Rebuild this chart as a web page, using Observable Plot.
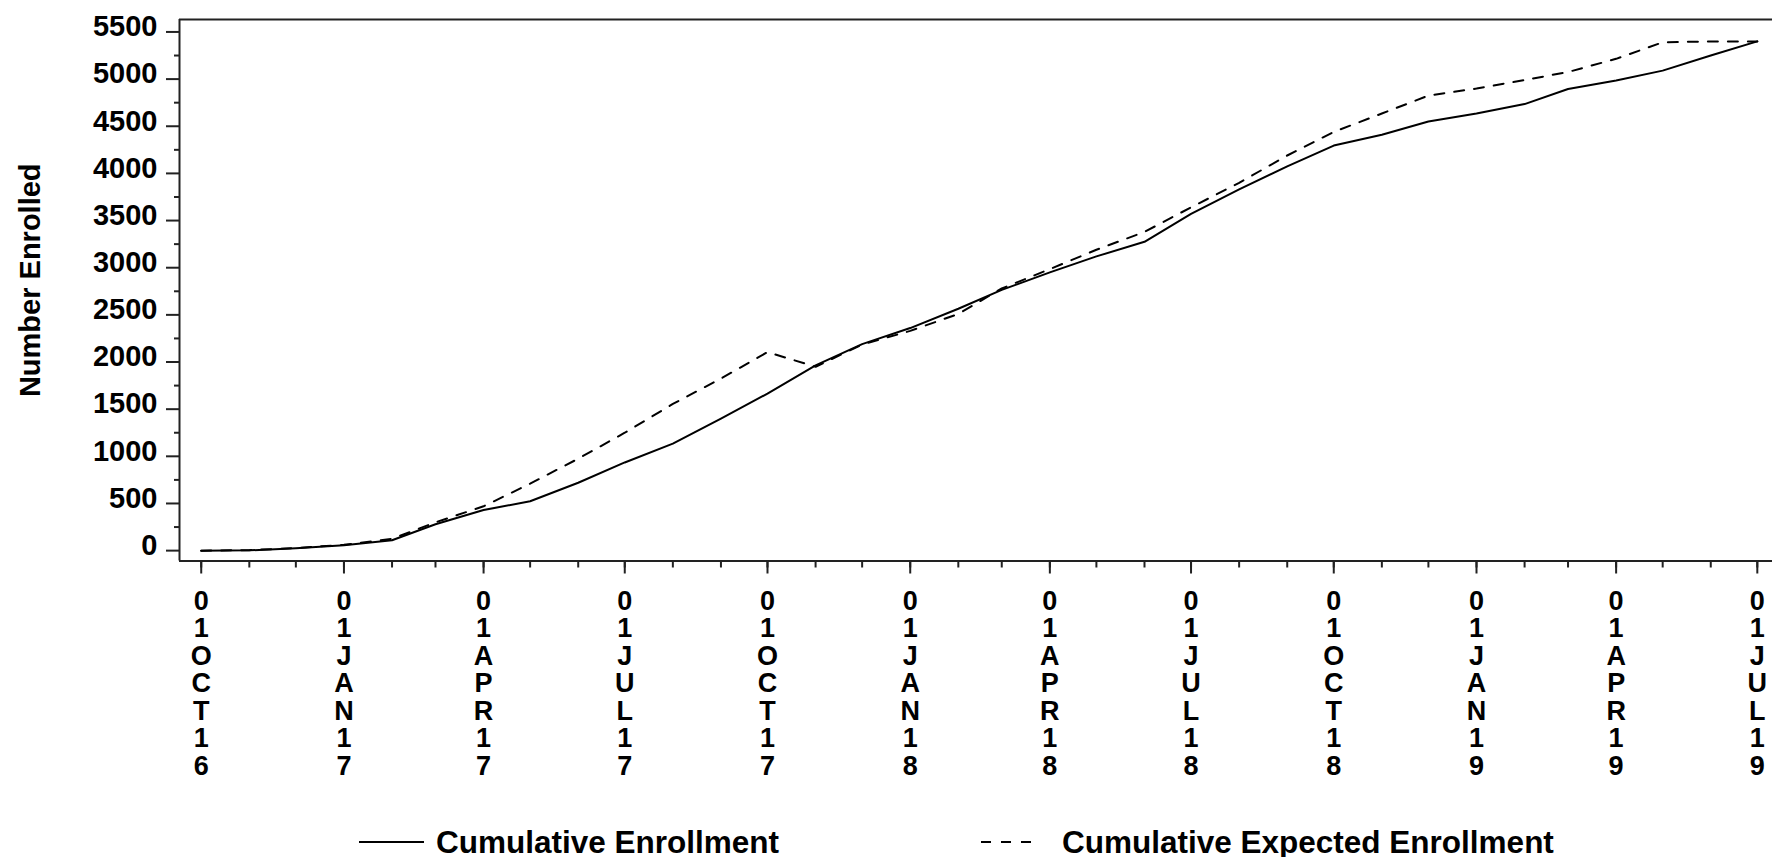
<!DOCTYPE html>
<html>
<head>
<meta charset="utf-8">
<script src="https://cdn.jsdelivr.net/npm/d3@7"></script>
<script src="https://cdn.jsdelivr.net/npm/@observablehq/plot@0.6"></script>
<style>
  html, body { margin: 0; padding: 0; background: #fff; }
  body { width: 1772px; height: 857px; overflow: hidden; font-family: "Liberation Sans", Arial, sans-serif; font-weight: bold; color: #000; }
  #legend { position: relative; width: 1772px; height: 47px; }
  #legend .sample { position: absolute; top: 14px; height: 36px; }
  #legend .label { position: absolute; top: 14px; height: 36px; line-height: 36px; font-size: 31.5px; white-space: nowrap; }
</style>
</head>
<body>
<div id="chart"></div>
<div id="legend"></div>
<script>
// Monthly cumulative enrollment, Oct 2016 – Jul 2019
const months = [
  "2016-10-01", "2016-11-01", "2016-12-01",
  "2017-01-01", "2017-02-01", "2017-03-01", "2017-04-01", "2017-05-01", "2017-06-01",
  "2017-07-01", "2017-08-01", "2017-09-01", "2017-10-01", "2017-11-01", "2017-12-01",
  "2018-01-01", "2018-02-01", "2018-03-01", "2018-04-01", "2018-05-01", "2018-06-01",
  "2018-07-01", "2018-08-01", "2018-09-01", "2018-10-01", "2018-11-01", "2018-12-01",
  "2019-01-01", "2019-02-01", "2019-03-01", "2019-04-01", "2019-05-01", "2019-06-01",
  "2019-07-01"
];
const actualEnrollment = [
  0, 3, 25,
  58, 110, 280, 430, 523, 720,
  935, 1135, 1400, 1665, 1965, 2190,
  2360, 2565, 2765, 2950, 3120, 3275,
  3570, 3830, 4075, 4295, 4410, 4550,
  4635, 4735, 4895, 4985, 5090, 5250,
  5400
];
const expectedEnrollment = [
  0, 5, 28,
  62, 125, 300, 470, 710, 975,
  1250, 1555, 1825, 2105, 1950, 2185,
  2330, 2510, 2780, 2985, 3190, 3380,
  3640, 3900, 4190, 4440, 4635, 4825,
  4900, 4990, 5075, 5215, 5390, 5400,
  5400
];
const seriesNames = ["Cumulative Enrollment", "Cumulative Expected Enrollment"];

// Axis settings
const monthAbbr = ["JAN", "FEB", "MAR", "APR", "MAY", "JUN", "JUL", "AUG", "SEP", "OCT", "NOV", "DEC"];
const xMajorTicks = [
  "2016-10-01", "2017-01-01", "2017-04-01", "2017-07-01", "2017-10-01", "2018-01-01",
  "2018-04-01", "2018-07-01", "2018-10-01", "2019-01-01", "2019-04-01", "2019-07-01"
];
const yMajorTicks = [0, 500, 1000, 1500, 2000, 2500, 3000, 3500, 4000, 4500, 5000, 5500];
const yMinorTicks = [250, 750, 1250, 1750, 2250, 2750, 3250, 3750, 4250, 4750, 5250];
const xDomain = ["2016-09-17T00:00Z", "2019-07-10T19:00Z"];
const yDomain = [-110, 5632];
const yTitle = "Number Enrolled";

const rows = months.map((m, i) => ({
  date: new Date(m + "T00:00Z"),
  actual: actualEnrollment[i],
  expected: expectedEnrollment[i]
}));
const monthDates = months.map(m => new Date(m + "T00:00Z"));
const majorDates = xMajorTicks.map(m => new Date(m + "T00:00Z"));
const xDomainDates = xDomain.map(d => new Date(d));

// "01OCT16" written one character per line
const stackedDate = d => {
  const s = "01" + monthAbbr[d.getUTCMonth()] + String(d.getUTCFullYear()).slice(2);
  return s.split("").join("\n");
};

const axisColor = "#222";
const dash = "10,10";

const chart = Plot.plot({
  width: 1772,
  height: 810,
  marginLeft: 179,
  marginRight: 0,
  marginTop: 19,
  marginBottom: 249.5,
  style: {
    fontFamily: "'Liberation Sans', Arial, sans-serif",
    fontSize: "29px",
    fontWeight: "bold",
    color: "#000",
    background: "#fff",
    overflow: "visible"
  },
  x: { type: "utc", domain: xDomainDates, label: null },
  y: { domain: yDomain, label: null },
  marks: [
    // frame: top, bottom and left edges
    Plot.ruleY([yDomain[1]], { stroke: axisColor, strokeWidth: 2 }),
    Plot.ruleY([yDomain[0]], { stroke: axisColor, strokeWidth: 2 }),
    Plot.ruleX([xDomainDates[0]], { stroke: axisColor, strokeWidth: 2 }),
    // y axis ticks and labels
    Plot.axisY(yMajorTicks, { tickSize: 13, tickFormat: () => "", stroke: axisColor, strokeWidth: 2, label: null }),
    Plot.axisY(yMinorTicks, { tickSize: 5, tickFormat: () => "", stroke: axisColor, strokeWidth: 2, label: null }),
    Plot.axisY(yMajorTicks, { tickSize: 0, tickPadding: 22, dy: -5, fontSize: 29, tickFormat: d => String(d), label: null }),
    // x axis: monthly minor ticks, quarterly major ticks with stacked labels
    Plot.axisX(monthDates, { tickSize: 7, tickFormat: () => "", stroke: axisColor, strokeWidth: 2, label: null }),
    Plot.axisX(majorDates, {
      tickSize: 13, tickPadding: 16, tickFormat: stackedDate,
      lineHeight: 1.02, fontSize: 27, stroke: axisColor, strokeWidth: 2, label: null
    }),
    // series
    Plot.line(rows, { x: "date", y: "expected", stroke: "#000", strokeWidth: 2, strokeDasharray: dash }),
    Plot.line(rows, { x: "date", y: "actual", stroke: "#000", strokeWidth: 2 }),
    // y axis title
    Plot.text([yTitle], { frameAnchor: "left", textAnchor: "middle", rotate: -90, dx: -149, dy: -10, fontSize: 29, fill: "#000" })
  ]
});
document.getElementById("chart").appendChild(chart);

// Legend below the chart
const legend = document.getElementById("legend");
const legendItems = [
  { name: seriesNames[0], dash: null, sampleLeft: 359, sampleWidth: 65, textLeft: 436 },
  { name: seriesNames[1], dash: dash, sampleLeft: 981, sampleWidth: 59, textLeft: 1062 }
];
for (const item of legendItems) {
  const svg = d3.create("svg")
    .attr("class", "sample")
    .attr("width", item.sampleWidth)
    .attr("height", 36)
    .style("left", item.sampleLeft + "px");
  svg.append("line")
    .attr("x1", 0).attr("x2", item.sampleWidth)
    .attr("y1", 18).attr("y2", 18)
    .attr("stroke", "#000").attr("stroke-width", 2)
    .attr("stroke-dasharray", item.dash);
  legend.appendChild(svg.node());
  const span = document.createElement("span");
  span.className = "label";
  span.style.left = item.textLeft + "px";
  span.textContent = item.name;
  legend.appendChild(span);
}
</script>
</body>
</html>
